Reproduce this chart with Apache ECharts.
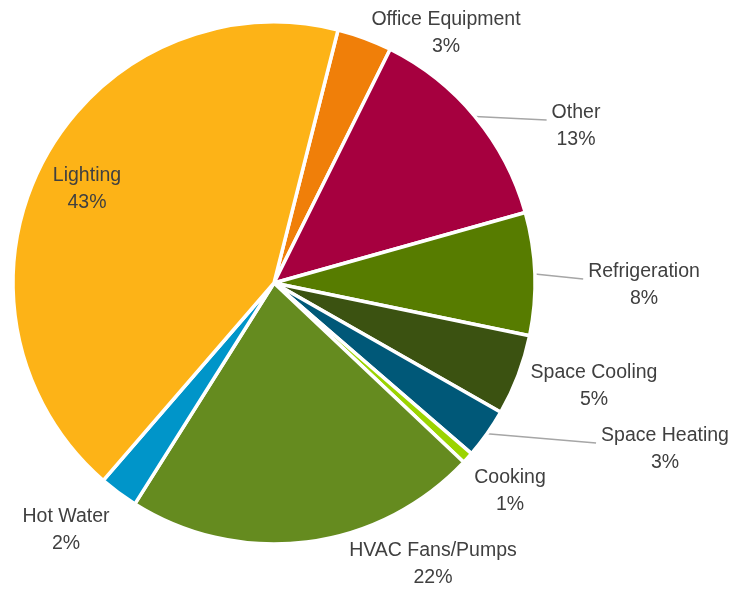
<!DOCTYPE html>
<html>
<head>
<meta charset="utf-8">
<title>Energy end use</title>
<script src="https://cdn.jsdelivr.net/npm/echarts@6/dist/echarts.min.js"></script>
<style>
  html, body { margin: 0; padding: 0; background: #ffffff; }
  #chart { width: 734px; height: 590px; }
</style>
</head>
<body>
<div id="chart"></div>
<script>
// End-use categories, in clockwise order from the top of the pie
const categories = [
  'Office Equipment', 'Other', 'Refrigeration', 'Space Cooling', 'Space Heating',
  'Cooking', 'HVAC Fans/Pumps', 'Hot Water', 'Lighting'
];
// Share of consumption, percent
const shares = [3.4, 13.3, 7.6, 5.0, 3.1, 0.7, 21.9, 2.4, 42.6];

// Slice colours
const sliceColors = [
  '#F07F09', '#A6003F', '#577C00', '#3B5211', '#005878',
  '#9BD400', '#658B1F', '#0095C9', '#FDB317'
];
// Which labels get a leader line back to their slice
const leaderLines = [false, true, true, false, true, false, false, false, false];
// Label block centres (px)
const labelSpots = [
  [446, 33], [576, 126], [644, 285], [594, 386], [665, 449],
  [510, 491], [433, 564], [66, 530], [87, 189]
];

const pieData = categories.map((name, i) => ({
  name: name,
  value: shares[i],
  itemStyle: { color: sliceColors[i] },
  labelLine: { show: leaderLines[i] }
}));

const chart = echarts.init(document.getElementById('chart'), null, { renderer: 'canvas' });
chart.setOption({
  animation: false,
  backgroundColor: '#ffffff',
  series: [{
    type: 'pie',
    center: [274, 283],
    radius: 261,
    startAngle: 75.8,
    clockwise: true,
    avoidLabelOverlap: false,
    data: pieData,
    itemStyle: { borderColor: '#ffffff', borderWidth: 3.5 },
    label: {
      show: true,
      position: 'outside',
      formatter: p => p.name + '\n' + Math.round(p.value) + '%',
      fontFamily: "'Liberation Sans', Arial, sans-serif",
      fontSize: 19.5,
      lineHeight: 27,
      color: '#404040'
    },
    labelLine: {
      show: true,
      length: 10,
      length2: 10,
      smooth: false,
      lineStyle: { color: '#A6A6A6', width: 1.5 }
    },
    labelLayout: function (params) {
      const i = params.dataIndex;
      const spot = labelSpots[i];
      const out = { x: spot[0], y: spot[1], align: 'center', verticalAlign: 'middle' };
      if (leaderLines[i] && params.labelLinePoints) {
        const w = params.labelRect.width;
        out.labelLinePoints = [
          params.labelLinePoints[0],
          [spot[0] - w / 2 - 5, spot[1] - 6]
        ];
      }
      return out;
    },
    emphasis: { disabled: true }
  }]
});
</script>
</body>
</html>
